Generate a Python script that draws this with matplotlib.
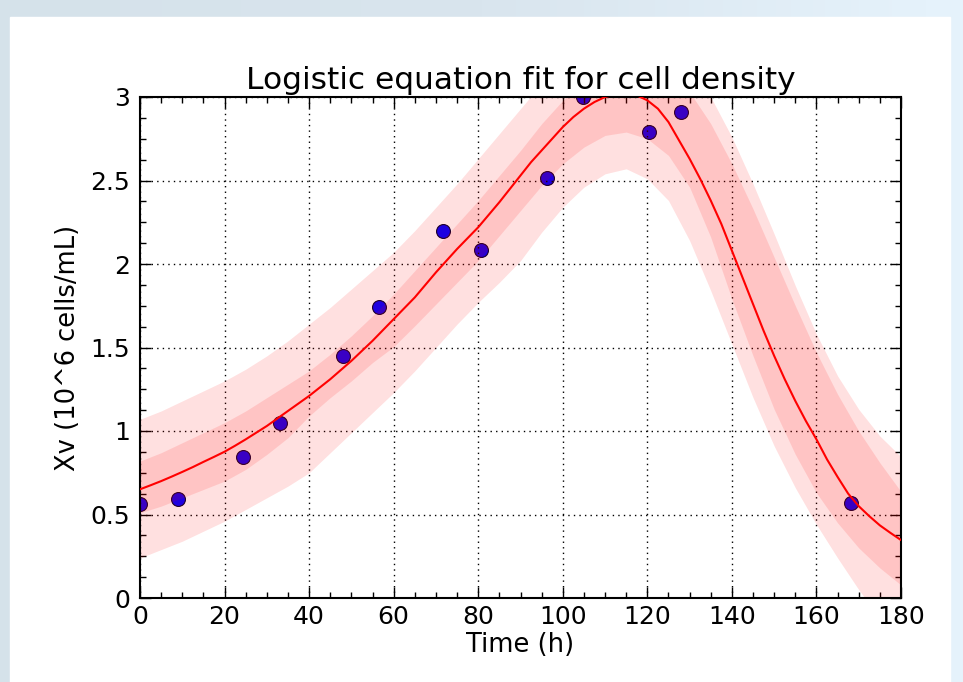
import numpy as np
import matplotlib
matplotlib.use("Agg")
import matplotlib.pyplot as plt
from matplotlib.ticker import AutoMinorLocator, MultipleLocator, FuncFormatter
from matplotlib.patches import Rectangle

# measured cell density
t_obs = [0, 9.1, 24.4, 33.1, 47.9, 56.6, 71.7, 80.6, 96.2, 104.7, 120.5, 128.0, 168.1]
xv_obs = [0.565, 0.593, 0.843, 1.046, 1.451, 1.741, 2.20, 2.082, 2.517, 3.0, 2.79, 2.91, 0.571]

# fitted curve, read every 2.5 h
t_fit = [i * 2.5 for i in range(73)]
xv_fit = [0.651, 0.675, 0.70, 0.727, 0.755, 0.784, 0.815, 0.845, 0.876, 0.912,
          0.95, 0.99, 1.03, 1.075, 1.12, 1.165, 1.21, 1.26, 1.31, 1.365,
          1.42, 1.48, 1.54, 1.605, 1.67, 1.735, 1.80, 1.875, 1.95, 2.02,
          2.09, 2.155, 2.22, 2.295, 2.37, 2.45, 2.53, 2.61, 2.68, 2.75,
          2.82, 2.88, 2.93, 2.97, 3.00, 3.015, 3.02, 3.01, 2.98, 2.93,
          2.85, 2.74, 2.63, 2.51, 2.38, 2.24, 2.08, 1.92, 1.76, 1.60,
          1.45, 1.31, 1.18, 1.06, 0.95, 0.83, 0.725, 0.625, 0.55, 0.49,
          0.435, 0.39, 0.347]

# confidence bands, read every 5 h
t_band = list(range(0, 185, 5))
inner_hi = [0.82, 0.87, 0.93, 0.99, 1.05, 1.12, 1.20, 1.28, 1.36, 1.46,
            1.57, 1.69, 1.82, 1.96, 2.10, 2.24, 2.38, 2.53, 2.68, 2.84,
            2.98, 3.10, 3.18, 3.22, 3.22, 3.16, 3.03, 2.84, 2.60, 2.33,
            2.04, 1.75, 1.47, 1.22, 1.00, 0.81, 0.637]
inner_lo = [0.51, 0.55, 0.60, 0.65, 0.70, 0.77, 0.86, 0.96, 1.09, 1.20,
            1.30, 1.41, 1.505, 1.63, 1.76, 1.89, 2.02, 2.17, 2.32, 2.47,
            2.60, 2.70, 2.77, 2.79, 2.75, 2.65, 2.46, 2.16, 1.79, 1.45,
            1.13, 0.86, 0.63, 0.45, 0.30, 0.18, 0.078]
outer_hi = [1.07, 1.12, 1.18, 1.24, 1.30, 1.37, 1.45, 1.54, 1.64, 1.74,
            1.85, 1.96, 2.07, 2.20, 2.34, 2.48, 2.63, 2.78, 2.93, 3.08,
            3.20, 3.30, 3.40, 3.42, 3.40, 3.30, 3.17, 3.00, 2.76, 2.48,
            2.18, 1.87, 1.58, 1.33, 1.13, 0.97, 0.846]
outer_lo = [0.24, 0.29, 0.34, 0.40, 0.46, 0.53, 0.60, 0.67, 0.75, 0.87,
            0.99, 1.11, 1.23, 1.36, 1.50, 1.64, 1.77, 1.89, 2.02, 2.19,
            2.34, 2.46, 2.54, 2.57, 2.51, 2.38, 2.14, 1.84, 1.52, 1.20,
            0.91, 0.66, 0.44, 0.24, 0.05, -0.12, -0.28]

fig = plt.figure(figsize=(9.63, 6.82), dpi=100)

# screenshot frame: light blue gradient behind a white panel
bg = fig.add_axes([0, 0, 1, 1], zorder=-10)
grad = np.linspace(0, 1, 256).reshape(1, -1)
cmap = matplotlib.colors.LinearSegmentedColormap.from_list("f", ["#d5e2ea", "#d9e5ee", "#e6f3fc"])
bg.imshow(grad, aspect="auto", extent=[0, 1, 0, 1], cmap=cmap)
bg.add_patch(Rectangle((10 / 963, 0), 940 / 963, 1 - 17 / 682, color="white"))
bg.set_xlim(0, 1)
bg.set_ylim(0, 1)
bg.axis("off")

ax = fig.add_axes([140 / 963, 84 / 682, 761 / 963, 501 / 682])
ax.plot(t_obs, xv_obs, "o", color="#0000ff", mec="#000033", mew=0.8, ms=10, zorder=1)
ax.fill_between(t_band, outer_lo, outer_hi, color="r", alpha=0.12, lw=0, zorder=2)
ax.fill_between(t_band, inner_lo, inner_hi, color="r", alpha=0.12, lw=0, zorder=2)
ax.plot(t_fit, xv_fit, color="r", lw=1.5, zorder=3)

ax.set_xlim(0, 180)
ax.set_ylim(0, 3)
ax.xaxis.set_major_locator(MultipleLocator(20))
ax.yaxis.set_major_locator(MultipleLocator(0.5))
ax.xaxis.set_minor_locator(AutoMinorLocator(4))
ax.yaxis.set_minor_locator(AutoMinorLocator(4))
ax.yaxis.set_major_formatter(FuncFormatter(lambda v, p: "%g" % v))
ax.tick_params(which="both", direction="in", top=True, right=True, width=1)
ax.tick_params(which="major", length=8)
ax.tick_params(which="minor", length=4)
ax.tick_params(axis="x", labelsize=18, pad=5)
ax.tick_params(axis="y", labelsize=18, pad=7)
for s in ax.spines.values():
    s.set_linewidth(1.5)
ax.grid(True, ls=(0, (1, 3)), c="k", lw=1)

ax.set_title("Logistic equation fit for cell density", fontsize=22.5, pad=6)
ax.set_xlabel("Time (h)", fontsize=18.5, labelpad=2)
ax.set_ylabel("Xv (10^6 cells/mL)", fontsize=18.5, labelpad=7)

fig.savefig("out.png", dpi=100)
